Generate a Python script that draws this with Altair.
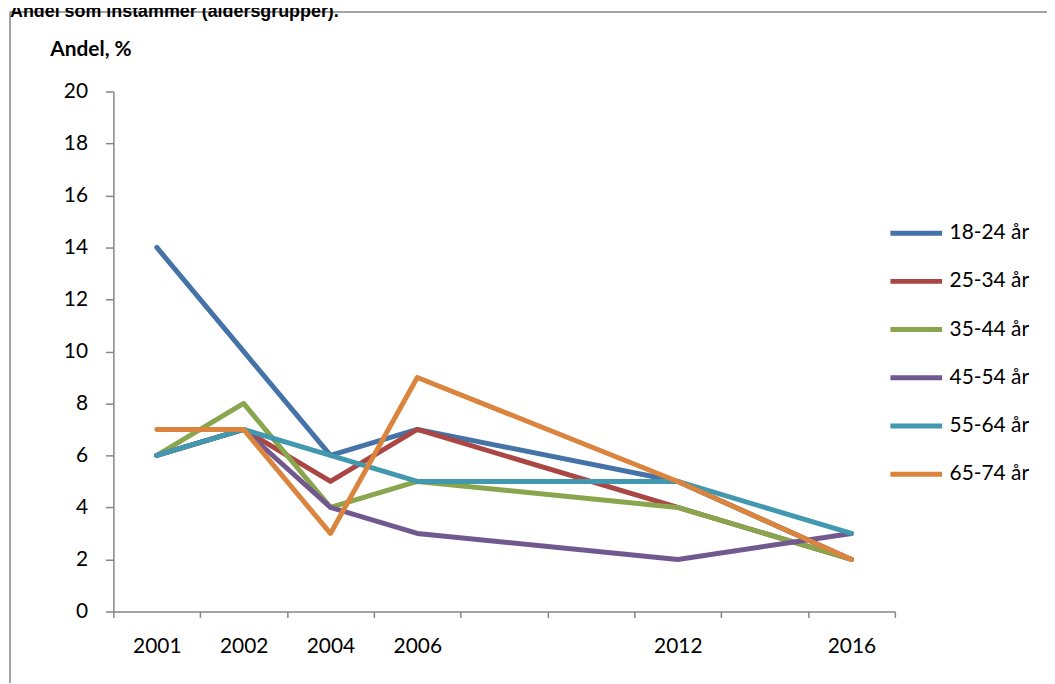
import altair as alt
import pandas as pd

# x categories (blank slots are empty categories in the original chart)
x_tick_labels = ["2001", "2002", "2004", "2006", "", "", "2012", "", "2016"]
years = ["2001", "2002", "2004", "2006", "2012", "2016"]
series = ["18-24 år", "25-34 år", "35-44 år", "45-54 år", "55-64 år", "65-74 år"]
v_18_24 = [14, 10, 6, 7, 5, 2]
v_25_34 = [6, 7, 5, 7, 4, 2]
v_35_44 = [6, 8, 4, 5, 4, 2]
v_45_54 = [6, 7, 4, 3, 2, 3]
v_55_64 = [6, 7, 6, 5, 5, 3]
v_65_74 = [7, 7, 3, 9, 5, 2]
colors = ["#4572A7", "#AA4643", "#89A54E", "#71588F", "#4198AF", "#DB843D"]
y_ticks = [0, 2, 4, 6, 8, 10, 12, 14, 16, 18, 20]
title_text = "Andel som instämmer (åldersgrupper)."
y_title = "Andel, %"

all_values = [v_18_24, v_25_34, v_35_44, v_45_54, v_55_64, v_65_74]
rows = []
for s, vals in zip(series, all_values):
    for yr, v in zip(years, vals):
        rows.append({"series": s, "year": yr, "pos": x_tick_labels.index(yr), "value": v})
df = pd.DataFrame(rows)

n = len(x_tick_labels)
x_values = [i * 0.5 - 0.5 for i in range(2 * n + 1)]
js_labels = "[" + ",".join("'" + t + "'" for t in x_tick_labels) + "]"

FONT = "Lato"
GRAY = "#868686"

lines = alt.Chart(df).mark_line(strokeWidth=5, strokeCap="round", strokeJoin="round").encode(
    x=alt.X(
        "pos:Q",
        scale=alt.Scale(domain=[-0.5, n - 0.5], nice=False, zero=False),
        axis=alt.Axis(
            values=x_values,
            labelExpr=f"datum.value % 1 == 0 ? {js_labels}[datum.value] : ''",
            tickOpacity={"condition": {"test": "datum.value % 1 != 0", "value": 1}, "value": 0},
            tickSize=6,
            labelPadding=18,
            labelFontSize=21,
            labelFont=FONT,
            labelColor="black",
            labelFlush=False,
            labelOverlap=False,
            grid=False,
            title=None,
        ),
    ),
    y=alt.Y(
        "value:Q",
        scale=alt.Scale(domain=[0, 20], nice=False),
        axis=alt.Axis(
            values=y_ticks,
            tickSize=8,
            labelPadding=18,
            labelFontSize=21,
            labelFont=FONT,
            labelColor="black",
            grid=False,
            title=y_title,
            titleAngle=0,
            titleAlign="left",
            titleBaseline="alphabetic",
            titleX=-64,
            titleY=-36,
            titleFont=FONT,
            titleFontSize=21,
            titleFontWeight="bold",
            titleColor="black",
        ),
    ),
    color=alt.Color(
        "series:N",
        scale=alt.Scale(domain=series, range=colors),
        legend=alt.Legend(
            title=None,
            orient="none",
            legendX=779,
            legendY=114,
            symbolType="stroke",
            symbolSize=2704,
            symbolStrokeWidth=5,
            labelOffset=5,
            labelFont=FONT,
            labelFontSize=21,
            labelColor="black",
            rowPadding=9.5,
            padding=0,
        ),
    ),
)

frame = alt.Chart(pd.DataFrame({"k": [0]})).mark_rect(
    fillOpacity=0, stroke=GRAY, strokeWidth=1.5
).encode(
    x=alt.value(-104), x2=alt.value(1000), y=alt.value(-80), y2=alt.value(700)
)

title = alt.Chart(pd.DataFrame({"t": [title_text]})).mark_text(
    align="left", baseline="alphabetic", font="Liberation Sans", fontSize=18,
    fontWeight="bold", color="black"
).encode(x=alt.value(-104), y=alt.value(-75), text="t:N")

chart = alt.layer(frame, lines, title).properties(
    width=786,
    height=523,
    padding={"left": 106, "top": 82, "right": 153, "bottom": 70},
    autosize=alt.AutoSizeParams(type="none"),
).configure_view(stroke=None).configure_axis(
    domainColor=GRAY, tickColor=GRAY, domainWidth=1.5, tickWidth=1.5
)

chart.save("out.html", embed_options={"renderer": "svg", "actions": False})
